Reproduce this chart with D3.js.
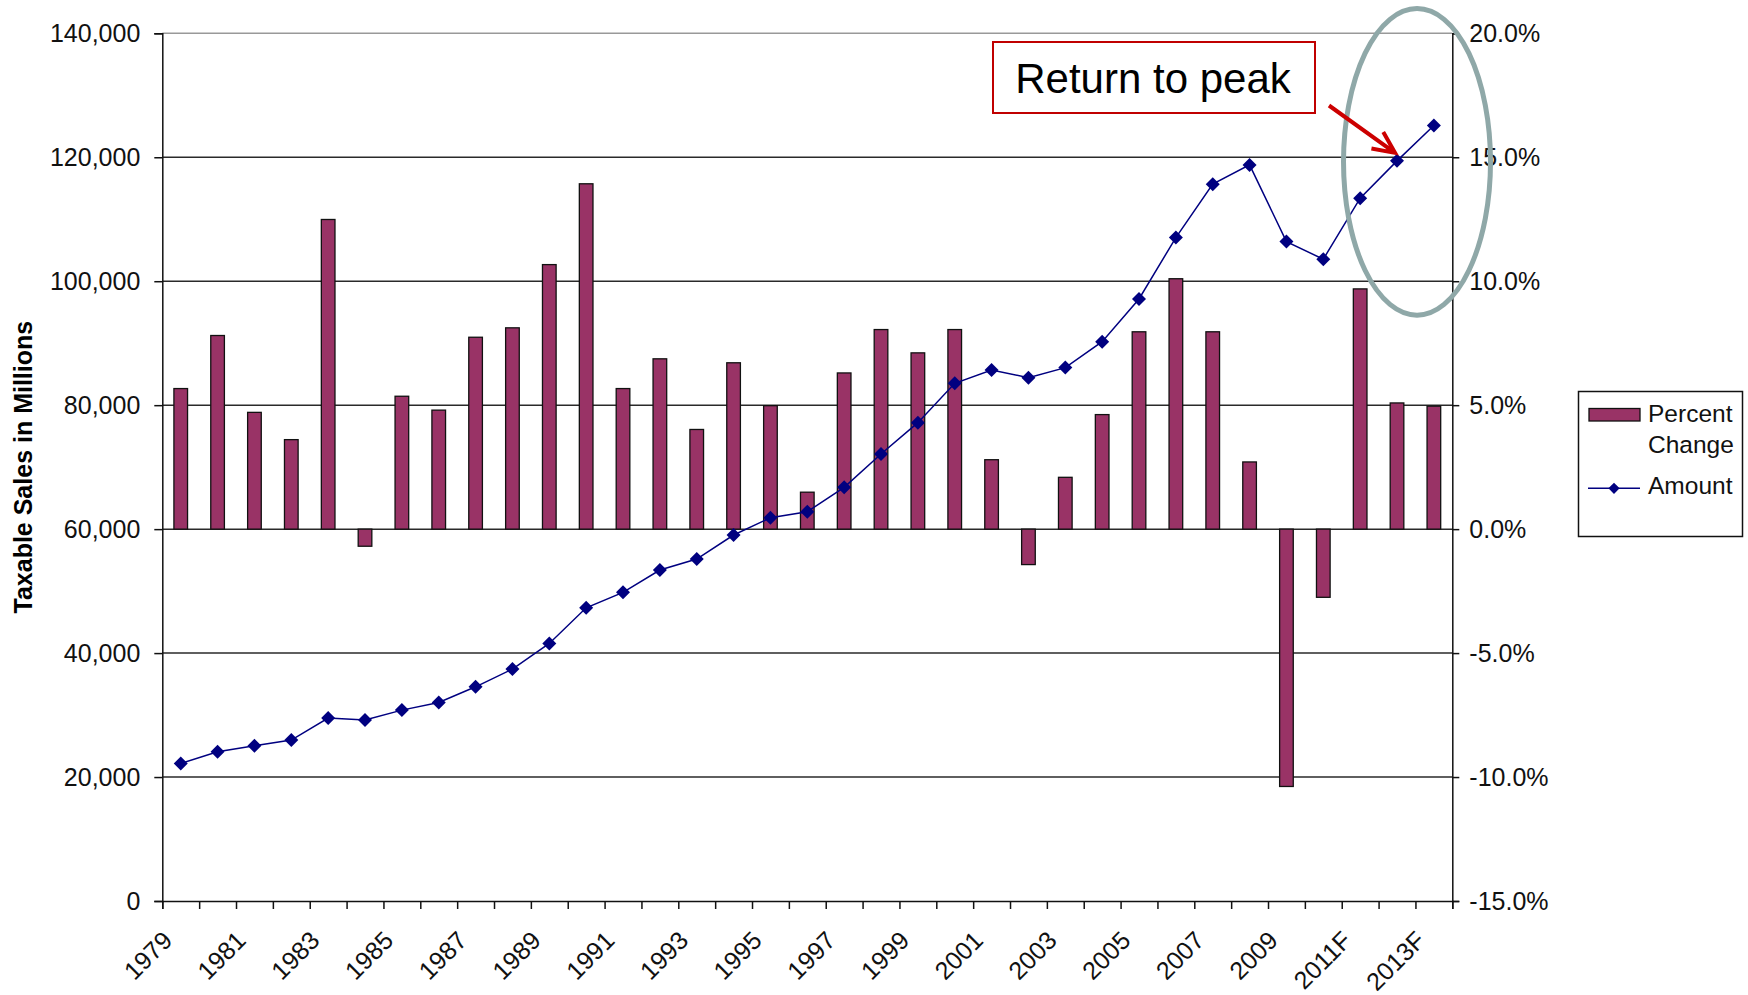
<!DOCTYPE html>
<html>
<head>
<meta charset="utf-8">
<script src="https://cdn.jsdelivr.net/npm/d3@7"></script>
<style>
  body { margin: 0; background: #fff; }
  svg text { font-family: "Liberation Sans", Arial, sans-serif; }
</style>
</head>
<body>
<div id="chart"></div>
<script>
// categories (only every other one gets a label)
const years = ['1979', '1980', '1981', '1982', '1983', '1984', '1985', '1986', '1987', '1988',
  '1989', '1990', '1991', '1992', '1993', '1994', '1995', '1996', '1997', '1998',
  '1999', '2000', '2001', '2002', '2003', '2004', '2005', '2006', '2007', '2008',
  '2009', '2010', '2011F', '2012F', '2013F']
const shown_labels = ['1979', '1981', '1983', '1985', '1987', '1989', '1991', '1993', '1995',
  '1997', '1999', '2001', '2003', '2005', '2007', '2009', '2011F', '2013F']

// percent change, right axis
const percent_change = [5.67, 7.81, 4.71, 3.61, 12.49, -0.69, 5.36, 4.80, 7.74, 8.12,
  10.67, 13.93, 5.67, 6.87, 4.02, 6.71, 4.98, 1.49, 6.30, 8.05,
  7.11, 8.05, 2.80, -1.43, 2.09, 4.62, 7.96, 10.10, 7.96, 2.71,
  -10.38, -2.75, 9.69, 5.09, 4.96]

// taxable sales amount in millions, left axis
const amount = [22190, 24070, 25040, 25960, 29510, 29190, 30800, 32040, 34560, 37420,
  41560, 47310, 49800, 53400, 55170, 59050, 61840, 62810, 66740, 72120,
  77180, 83530, 85680, 84440, 86060, 90250, 97140, 107040, 115660, 118770,
  106390, 103550, 113400, 119420, 125120]

const left_ticks = [0, 20000, 40000, 60000, 80000, 100000, 120000, 140000]
const right_ticks = [-15, -10, -5, 0, 5, 10, 15, 20]

const peak_year = '2012F'

window.addEventListener('load',
  () => {
    let W = 1748, H = 995
    let left = 162.3, right = 1452.3, top = 33.3, bottom = 901
    let bar_color = '#993366'
    let line_color = '#000080'

    let svg = d3.select('#chart')
      .append('svg')
      .attr('width', W)
      .attr('height', H)
      .attr('xmlns', 'http://www.w3.org/2000/svg')

    let x = d3.scaleBand().domain(years).range([left, right])
    let x_edge = d3.scaleLinear().domain([0, years.length]).range([left, right])
    let y_left = d3.scaleLinear().domain([0, 140000]).range([bottom, top])
    let y_right = d3.scaleLinear().domain([-15, 20]).range([bottom, top])
    let cx = d => x(d) + x.bandwidth() / 2

    // gridlines
    svg.append('g')
      .selectAll('line')
      .data(left_ticks.filter(d => d > 0))
      .join('line')
      .attr('x1', left)
      .attr('x2', right)
      .attr('y1', d => y_left(d))
      .attr('y2', d => y_left(d))
      .attr('stroke', d => d == 140000 ? '#999' : '#2a2a2a')
      .attr('stroke-width', 1.5)

    // bars
    let bar_w = x.bandwidth() * 0.37
    svg.append('g')
      .selectAll('rect')
      .data(percent_change)
      .join('rect')
      .attr('x', (d, i) => cx(years[i]) - bar_w / 2)
      .attr('y', d => y_right(Math.max(0, d)))
      .attr('width', bar_w)
      .attr('height', d => Math.abs(y_right(d) - y_right(0)))
      .attr('fill', bar_color)
      .attr('stroke', '#111')
      .attr('stroke-width', 1.3)

    // axes
    let ax_left = svg.append('g')
      .attr('transform', `translate(${left},0)`)
      .call(d3.axisLeft(y_left).tickValues(left_ticks).tickSize(8).tickPadding(14)
        .tickFormat(d3.format(',')))
    let ax_right = svg.append('g')
      .attr('transform', `translate(${right},0)`)
      .call(d3.axisRight(y_right).tickValues(right_ticks).tickSize(7).tickPadding(10)
        .tickFormat(d => d.toFixed(1) + '%'))
    let ax_bottom = svg.append('g')
      .attr('transform', `translate(0,${bottom})`)
      .call(d3.axisBottom(x_edge).tickValues(d3.range(years.length + 1)).tickSize(8)
        .tickFormat(''))

    for (let ax of [ax_left, ax_right, ax_bottom]) {
      ax.select('.domain').attr('stroke', '#111').attr('stroke-width', 1.5)
      ax.selectAll('.tick line').attr('stroke', '#111').attr('stroke-width', 1.5)
      ax.selectAll('.tick text')
        .attr('font-size', 25)
        .attr('font-family', '"Liberation Sans", Arial, sans-serif')
        .attr('fill', '#111')
    }

    // rotated year labels
    svg.append('g')
      .selectAll('text')
      .data(shown_labels)
      .join('text')
      .attr('transform', d => `translate(${cx(d) - 7},${bottom + 41}) rotate(-45)`)
      .attr('text-anchor', 'end')
      .attr('font-size', 25)
      .attr('fill', '#111')
      .text(d => d)

    // amount line
    let line = d3.line()
      .x((d, i) => cx(years[i]))
      .y(d => y_left(d))
    svg.append('path')
      .datum(amount)
      .attr('d', line)
      .attr('fill', 'none')
      .attr('stroke', line_color)
      .attr('stroke-width', 1.5)

    let diamond = 'M0,-7L7,0L0,7L-7,0Z'
    svg.append('g')
      .selectAll('path')
      .data(amount)
      .join('path')
      .attr('transform', (d, i) => `translate(${cx(years[i])},${y_left(d)})`)
      .attr('d', diamond)
      .attr('fill', line_color)

    // y axis title
    svg.append('text')
      .attr('transform', `translate(32,${(top + bottom) / 2}) rotate(-90)`)
      .attr('text-anchor', 'middle')
      .attr('font-size', 25)
      .attr('font-weight', 'bold')
      .text('Taxable Sales in Millions')

    // legend
    let lg = svg.append('g')
    lg.append('rect')
      .attr('x', 1578.5).attr('y', 391.5)
      .attr('width', 164).attr('height', 145)
      .attr('fill', '#fff').attr('stroke', '#111').attr('stroke-width', 1.5)
    lg.append('rect')
      .attr('x', 1589).attr('y', 408.5)
      .attr('width', 51).attr('height', 12.5)
      .attr('fill', bar_color).attr('stroke', '#111').attr('stroke-width', 1.3)
    lg.append('line')
      .attr('x1', 1588).attr('x2', 1640)
      .attr('y1', 488.3).attr('y2', 488.3)
      .attr('stroke', line_color).attr('stroke-width', 1.5)
    lg.append('path')
      .attr('transform', 'translate(1614,488.3) scale(0.8)')
      .attr('d', diamond)
      .attr('fill', line_color)
    let legend_text = [['Percent', 421.7], ['Change', 453.3], ['Amount', 494]]
    lg.selectAll('text.lab')
      .data(legend_text)
      .join('text')
      .attr('x', 1648)
      .attr('y', d => d[1])
      .attr('font-size', 24.5)
      .attr('fill', '#111')
      .text(d => d[0])

    // annotation: box, arrow, ellipse round the forecast
    let px = cx(peak_year), py = y_left(amount[years.indexOf(peak_year)])

    svg.append('ellipse')
      .attr('cx', px + 20)
      .attr('cy', py + 1)
      .attr('rx', 73.5)
      .attr('ry', 153.3)
      .attr('fill', 'none')
      .attr('stroke', '#8fa8a8')
      .attr('stroke-width', 5)

    svg.append('rect')
      .attr('x', 993).attr('y', 42)
      .attr('width', 322).attr('height', 71)
      .attr('fill', '#fff')
      .attr('stroke', '#c00000')
      .attr('stroke-width', 2)
    svg.append('text')
      .attr('x', 1153)
      .attr('y', 92.7)
      .attr('text-anchor', 'middle')
      .attr('font-size', 42)
      .attr('fill', '#000')
      .text('Return to peak')

    let tip = [px - 2, py - 8]
    let start = [1329, 105.5]
    let ang = Math.atan2(start[1] - tip[1], start[0] - tip[0])
    let head = 24, spread = 25 * Math.PI / 180
    let h1 = [tip[0] + head * Math.cos(ang + spread), tip[1] + head * Math.sin(ang + spread)]
    let h2 = [tip[0] + head * Math.cos(ang - spread), tip[1] + head * Math.sin(ang - spread)]
    svg.append('path')
      .attr('d', `M${start}L${tip}M${h1}L${tip}L${h2}`)
      .attr('fill', 'none')
      .attr('stroke', '#cc0000')
      .attr('stroke-width', 4)
      .attr('stroke-linejoin', 'miter')
  })
</script>
</body>
</html>
